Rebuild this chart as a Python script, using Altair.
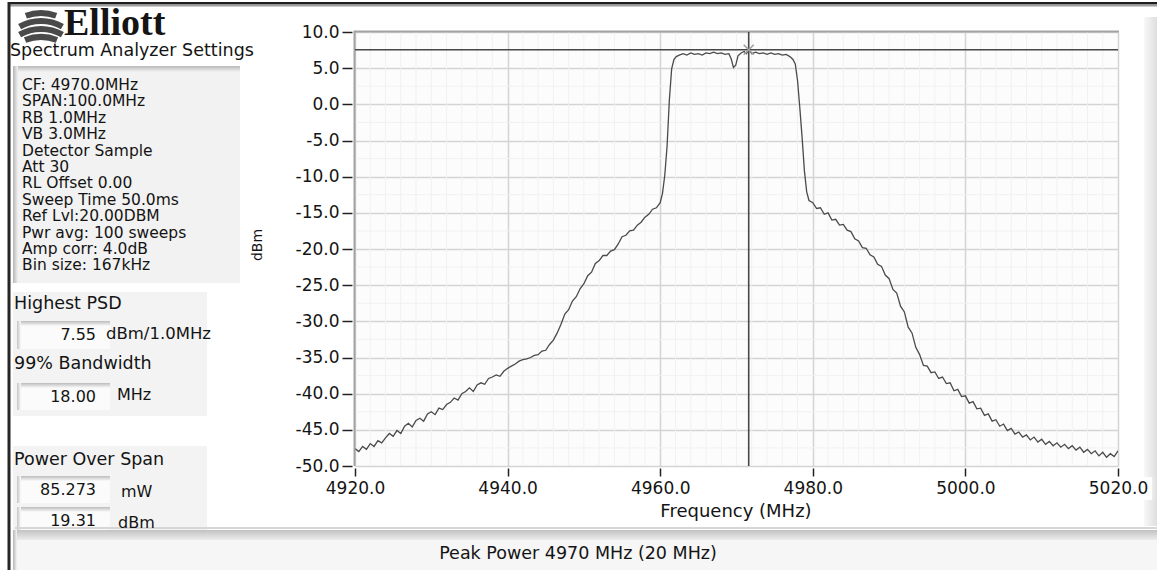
import altair as alt
import pandas as pd

# ---------------- data ----------------
freq_mhz = [
    4920.0, 4920.5, 4921.0, 4921.5, 4922.0, 4922.5, 4923.0, 4923.5, 4924.0, 4924.5,
    4925.0, 4925.5, 4926.0, 4926.5, 4927.0, 4927.5, 4928.0, 4928.5, 4929.0, 4929.5,
    4930.0, 4930.5, 4931.0, 4931.5, 4932.0, 4932.5, 4933.0, 4933.5, 4934.0, 4934.5,
    4935.0, 4935.5, 4936.0, 4936.5, 4937.0, 4937.5, 4938.0, 4938.5, 4939.0, 4939.5,
    4940.0, 4940.5, 4941.0, 4941.5, 4942.0, 4942.5, 4943.0, 4943.5, 4944.0, 4944.5,
    4945.0, 4945.5, 4946.0, 4946.5, 4947.0, 4947.5, 4948.0, 4948.5, 4949.0, 4949.5,
    4950.0, 4950.5, 4951.0, 4951.5, 4952.0, 4952.5, 4953.0, 4953.5, 4954.0, 4954.5,
    4955.0, 4955.5, 4956.0, 4956.5, 4957.0, 4957.5, 4958.0, 4958.5, 4959.0, 4959.5,
    4960.0, 4960.3, 4960.6, 4960.9, 4961.2, 4961.5, 4961.8, 4962.1,
    4962.5, 4963.0, 4963.5, 4964.0, 4964.5, 4965.0, 4965.5, 4966.0, 4966.5, 4967.0,
    4967.5, 4968.0, 4968.5, 4969.0, 4969.3, 4969.6, 4969.9, 4970.2, 4970.6, 4971.0,
    4971.3, 4971.6, 4972.0, 4972.5, 4973.0, 4973.5, 4974.0, 4974.5, 4975.0, 4975.5,
    4976.0, 4976.5, 4977.0, 4977.4, 4977.7, 4978.0, 4978.3, 4978.6, 4978.9, 4979.2,
    4979.5,
    4980.0, 4980.5, 4981.0, 4981.5, 4982.0, 4982.5, 4983.0, 4983.5, 4984.0, 4984.5,
    4985.0, 4985.5, 4986.0, 4986.5, 4987.0, 4987.5, 4988.0, 4988.5, 4989.0, 4989.5,
    4990.0, 4990.5, 4991.0, 4991.5, 4992.0, 4992.5, 4993.0, 4993.5, 4994.0, 4994.5,
    4995.0, 4995.5, 4996.0, 4996.5, 4997.0, 4997.5, 4998.0, 4998.5, 4999.0, 4999.5,
    5000.0, 5000.5, 5001.0, 5001.5, 5002.0, 5002.5, 5003.0, 5003.5, 5004.0, 5004.5,
    5005.0, 5005.5, 5006.0, 5006.5, 5007.0, 5007.5, 5008.0, 5008.5, 5009.0, 5009.5,
    5010.0, 5010.5, 5011.0, 5011.5, 5012.0, 5012.5, 5013.0, 5013.5, 5014.0, 5014.5,
    5015.0, 5015.5, 5016.0, 5016.5, 5017.0, 5017.5, 5018.0, 5018.5, 5019.0, 5019.5,
    5020.0,
]
level_dbm = [
    -47.6, -48.0, -47.3, -47.7, -46.9, -47.3, -46.5, -46.8, -46.1, -45.5,
    -45.9, -45.1, -45.5, -44.5, -44.1, -44.6, -43.7, -43.4, -43.8, -42.8,
    -42.5, -42.9, -42.0, -42.2, -41.5, -41.2, -40.6, -40.9, -40.0, -39.7,
    -39.2, -39.7, -38.8, -38.5, -38.7, -37.9, -37.7, -37.4, -37.6, -36.9,
    -36.5, -36.2, -35.9, -35.5, -35.3, -35.2, -35.0, -34.7, -34.6, -34.1,
    -34.0, -33.2, -32.6, -31.6, -30.4, -29.0, -28.4, -27.2, -26.6, -25.5,
    -24.8, -23.7, -23.2, -22.0, -21.6, -20.9, -20.9, -20.3, -20.1, -19.3,
    -18.3, -18.1, -17.5, -17.4, -16.7, -16.3, -15.6, -15.2, -14.5, -14.3,
    -13.6, -12.3, -9.8, -5.8, 0.6, 4.9, 6.2, 6.6,
    6.8, 7.0, 6.8, 7.1, 6.9, 7.0, 6.8, 7.1, 7.0, 7.2,
    7.0, 7.1, 6.9, 7.0, 6.3, 5.1, 5.4, 6.7, 7.1, 7.3,
    7.0, 7.55, 7.0, 7.2, 7.0, 7.1, 6.9, 7.1, 6.9, 7.0,
    6.8, 6.9, 6.6, 6.2, 5.6, 3.3, -0.5, -4.6, -9.2, -12.1,
    -13.3,
    -13.6, -14.4, -14.3, -15.2, -15.0, -16.0, -15.9, -16.7, -16.6, -17.4,
    -17.6, -18.6, -18.9, -19.8, -19.9, -20.8, -21.1, -22.1, -22.4, -23.6,
    -24.1, -25.6, -26.1, -27.9, -28.7, -30.8, -31.6, -33.6, -34.6, -36.1,
    -36.2, -37.1, -37.0, -37.9, -37.7, -38.6, -38.5, -39.6, -39.4, -40.4,
    -40.3, -41.3, -41.1, -42.1, -42.0, -43.0, -42.8, -43.8, -43.6, -44.5,
    -44.2, -45.1, -44.8, -45.6, -45.3, -46.0, -45.7, -46.4, -46.0, -46.7,
    -46.3, -47.0, -46.6, -47.2, -46.8, -47.4, -47.0, -47.6, -47.2, -47.8,
    -47.4, -48.1, -47.7, -48.3, -47.9, -48.6, -48.1, -48.8, -48.3, -48.7,
    -47.9,
]

peak_freq_mhz = [4971.6]
peak_level_dbm = [7.55]

x_ticks = [4920, 4940, 4960, 4980, 5000, 5020]
y_ticks = [-50, -45, -40, -35, -30, -25, -20, -15, -10, -5, 0, 5, 10]
x_minor = [v for v in range(4922, 5020, 2) if v % 20 != 0]
y_minor = [-47.5, -42.5, -37.5, -32.5, -27.5, -22.5, -17.5, -12.5, -7.5, -2.5, 2.5, 7.5]

logo_text = "Elliott"
settings_title = "Spectrum Analyzer Settings"
settings_lines = [
    "CF: 4970.0MHz", "SPAN:100.0MHz", "RB 1.0MHz", "VB 3.0MHz", "Detector Sample",
    "Att 30", "RL Offset 0.00", "Sweep Time 50.0ms", "Ref Lvl:20.00DBM",
    "Pwr avg: 100 sweeps", "Amp corr: 4.0dB", "Bin size: 167kHz",
]
psd_label, psd_value, psd_unit = "Highest PSD", "7.55", "dBm/1.0MHz"
bw_label, bw_value, bw_unit = "99% Bandwidth", "18.00", "MHz"
pow_label = "Power Over Span"
pow_mw_value, pow_mw_unit = "85.273", "mW"
pow_dbm_value, pow_dbm_unit = "19.31", "dBm"
footer_text = "Peak Power 4970 MHz (20 MHz)"
x_title = "Frequency (MHz)"
y_title = "dBm"

# ---------------- layout ----------------
TOTAL_W, TOTAL_H = 1157, 570
L, T, W, H = 355, 32, 763, 434
FONT = "DejaVu Sans"

ONE = alt.Data(values=[{"k": 0}])
xs = alt.Scale(domain=[4920, 5020], nice=False, zero=False)
ys = alt.Scale(domain=[-50, 10], nice=False, zero=False)

x_axis = alt.Axis(values=x_ticks, format=".1f", labelFont=FONT, labelFontSize=17, labelColor="#141414",
                  tickColor="#222222", tickSize=8, tickWidth=1.5, offset=2, labelPadding=4,
                  domain=False, grid=True, gridColor="#d4d4d4", gridWidth=1.5, title=None,
                  labelFlush=False, labelOverlap=False, labelBound=False)
y_axis = alt.Axis(values=y_ticks,
                  labelExpr="(datum.value < 0 ? '-' : '') + format(abs(datum.value), '.1f')",
                  labelFont=FONT, labelFontSize=17, labelColor="#141414",
                  tickColor="#222222", tickSize=10, tickWidth=1.5, offset=3, labelPadding=3,
                  domain=False, grid=True, gridColor="#d4d4d4", gridWidth=1.5, title=None,
                  labelOverlap=False, labelBound=False, labelFlush=False)
X_ENC = alt.X("freq:Q", scale=xs, axis=x_axis)
Y_ENC = alt.Y("dbm:Q", scale=ys, axis=y_axis)


def vgrad(c1, c2):
    return alt.Gradient(gradient="linear",
                        stops=[alt.GradientStop(color=c1, offset=0), alt.GradientStop(color=c2, offset=1)],
                        x1=0, x2=0, y1=0, y2=1)


def hgrad(c1, c2):
    return alt.Gradient(gradient="linear",
                        stops=[alt.GradientStop(color=c1, offset=0), alt.GradientStop(color=c2, offset=1)],
                        x1=0, x2=1, y1=0, y2=0)


def box(x1, y1, x2, y2, fill):
    return alt.Chart(ONE).mark_rect(fill=fill, strokeWidth=0).encode(
        x=alt.value(x1 - L), x2=alt.value(x2 - L), y=alt.value(y1 - T), y2=alt.value(y2 - T))


def txt(x, y, s, size=16, align="left", color="#141414", font=FONT, **kw):
    return alt.Chart(ONE).mark_text(text=s, align=align, baseline="middle", fontSize=size,
                                    font=font, color=color, **kw).encode(
        x=alt.value(x - L), y=alt.value(y - T))


def value_box(x1, y1, x2, y2):
    return [box(x1, y1, x2, y2, "#fbfbfb"),
            box(x1, y1, x2, y1 + 5, vgrad("#bcbcbc", "#fbfbfb")),
            box(x1, y1, x1 + 4, y2, hgrad("#c4c4c4", "#fbfbfb"))]


layers = []

# plot: minor grid first (under everything in the plot)
minor_x_df = pd.DataFrame({"freq": x_minor})
minor_y_df = pd.DataFrame({"dbm": y_minor})
layers += [
    alt.Chart(minor_x_df).mark_rule(color="#f1f1f1", strokeWidth=1).encode(x=X_ENC),
    alt.Chart(minor_y_df).mark_rule(color="#f1f1f1", strokeWidth=1).encode(y=Y_ENC),
]

# frame and panels
layers += [
    box(8, 2, TOTAL_W, 4.5, "#1e1e1e"),
    box(8, 4.5, TOTAL_W, 6.5, "#9c9c9c"),
    box(1144, 17, TOTAL_W, 477, hgrad("#f8f8f8", "#dedede")),
    box(1144, 500, TOTAL_W, 526, hgrad("#f8f8f8", "#dedede")),
    box(1152, 477, TOTAL_W, 500, hgrad("#eeeeee", "#dedede")),
    # settings panel
    box(13, 67, 240, 283, "#f2f2f2"),
    box(13, 66, 240, 72, vgrad("#b9b9b9", "#f2f2f2")),
    box(13, 66, 18, 283, hgrad("#b5b5b5", "#f2f2f2")),
    # result panels
    box(13, 292, 207, 354, "#f3f3f3"),
    box(13, 354, 207, 416, "#f3f3f3"),
    box(13, 446, 207, 536, "#f3f3f3"),
]
layers += value_box(17, 321, 110, 349)
layers += value_box(17, 383, 110, 410)
layers += value_box(17, 476, 110, 503)
layers += value_box(17, 507, 110, 534)
# footer bar
layers += [
    box(15, 527, TOTAL_W, 529, "#d6d6d6"),
    box(15, 530, TOTAL_W, 540, vgrad("#c2c2c2", "#ececec")),
    box(15, 540, TOTAL_W, TOTAL_H, "#f6f6f6"),
    box(13, 530, 17, TOTAL_H, hgrad("#b5b5b5", "#f6f6f6")),
    box(7.5, 2, 10.5, TOTAL_H, "#262626"),
]

# logo: striped globe + word mark
for cy, half in [(56, 0.36), (64, 0.52), (72, 0.52), (80, 0.38)]:
    layers.append(
        alt.Chart(ONE).mark_arc(radius=46, radius2=40, theta=6.2832 - half,
                                theta2=6.2832 + half, color="#4a4a4a").encode(
            x=alt.value(41 - L), y=alt.value(cy - T)))
layers.append(txt(64, 24, logo_text, size=38, font="Liberation Serif", fontWeight="bold", color="#151515"))

# left panel texts
layers.append(txt(10, 51, settings_title, size=17.5))
settings_df = pd.DataFrame({"line": settings_lines})
layers.append(
    alt.Chart(settings_df).transform_window(idx="row_number()").transform_calculate(
        ypix=f"{85 - T} + (datum.idx - 1) * 16.4").mark_text(
        align="left", baseline="middle", fontSize=15.5, font=FONT, color="#141414").encode(
        x=alt.value(22 - L), y=alt.Y("ypix:Q", scale=None, axis=None), text="line:N"))
layers += [
    txt(14, 304, psd_label, size=17.5),
    txt(96, 335, psd_value, size=16, align="right"),
    txt(106, 334, psd_unit, size=16.5),
    txt(14, 364, bw_label, size=17.5),
    txt(96, 397, bw_value, size=16, align="right"),
    txt(117, 395, bw_unit, size=16),
    txt(14, 460, pow_label, size=17.5),
    txt(96, 490, pow_mw_value, size=16, align="right"),
    txt(121, 492, pow_mw_unit, size=16),
    txt(96, 521, pow_dbm_value, size=16, align="right"),
    txt(118, 523, pow_dbm_unit, size=16),
    txt(578, 554, footer_text, size=17.5, align="center"),
]

# trace (defines the axes)
trace_df = pd.DataFrame({"freq": freq_mhz, "dbm": level_dbm})
layers.append(
    alt.Chart(trace_df).mark_line(color="#4a4a4a", strokeWidth=1.3, interpolate="linear", clip=True).encode(
        x=X_ENC, y=Y_ENC))

# plot border (top, left)
layers += [
    box(355, 30.5, 1119, 32.5, "#a3a3a3"),
    box(353.5, 30.5, 355.5, 466, "#a3a3a3"),
]

# cursor
peak_df = pd.DataFrame({"freq": peak_freq_mhz, "dbm": peak_level_dbm})
layers += [
    alt.Chart(peak_df).mark_rule(color="#474747", strokeWidth=1.6).encode(x=X_ENC),
    alt.Chart(peak_df).mark_rule(color="#474747", strokeWidth=1.6).encode(y=Y_ENC),
    alt.Chart(peak_df).mark_point(shape="M-1,-1L1,1M-1,1L1,-1", size=100, color="#a0a0a0",
                                  strokeWidth=1.6, filled=False, opacity=1).encode(x=X_ENC, y=Y_ENC),
]

# axis titles
layers += [
    txt(736, 512, x_title, size=18, align="center"),
    txt(258, 245, y_title, size=14, align="center", angle=270),
]

chart = alt.layer(*layers).properties(
    width=W, height=H,
    autosize=alt.AutoSizeParams(type="none"),
    padding={"left": L, "top": T, "right": TOTAL_W - L - W, "bottom": TOTAL_H - T - H},
    background="white",
).configure_view(fill="#fcfcfc", strokeWidth=0)

chart.save("out.html", embed_options={"renderer": "svg", "actions": False})
